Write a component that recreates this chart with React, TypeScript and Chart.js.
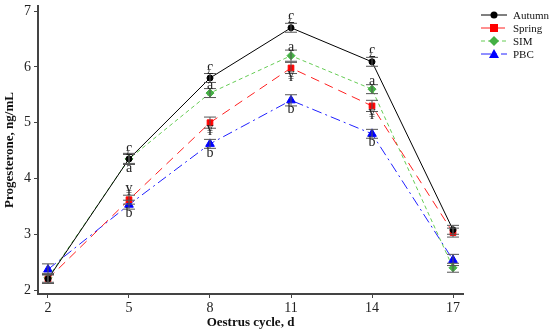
import React, { useEffect, useRef } from "react";
import { Chart, registerables } from "chart.js";

Chart.register(...registerables);

const days = [2, 5, 8, 11, 14, 17];
const yTicks = [2, 3, 4, 5, 6, 7];

const autumn = [2.2, 4.35, 5.8, 6.7, 6.09, 3.08];
const spring = [2.2, 3.62, 5.0, 5.98, 5.3, 3.03];
const sim = [2.22, 4.35, 5.53, 6.2, 5.6, 2.4];
const pbc = [2.37, 3.53, 4.62, 5.4, 4.8, 2.54];

const autumnErr = [0.08, 0.1, 0.08, 0.08, 0.08, 0.08];
const springErr = [0.08, 0.08, 0.1, 0.1, 0.1, 0.08];
const simErr = [0.08, 0.08, 0.08, 0.1, 0.08, 0.08];
const pbcErr = [0.1, 0.08, 0.08, 0.1, 0.08, 0.1];

const autumnLetters = ["", "£", "£", "£", "£", ""];
const springLetters = ["", "¥", "¥", "¥", "¥", ""];
const simLetters = ["", "a", "a", "a", "a", ""];
const pbcLetters = ["", "b", "b", "b", "b", ""];

// +1 = above the point, -1 = below the point
const autumnLetterSide = [1, 1, 1, 1, 1, 1];
const springLetterSide = [-1, 1, -1, -1, -1, -1];
const simLetterSide = [-1, -1, 1, 1, 1, -1];
const pbcLetterSide = [-1, -1, -1, -1, -1, -1];

const seriesNames = ["Autumn", "Spring", "SIM", "PBC"];

const SERIF = "'Liberation Serif', 'DejaVu Serif', serif";

export default function App() {
  const ref = useRef<HTMLCanvasElement | null>(null);

  useEffect(() => {
    const canvas = ref.current;
    if (!canvas) return;

    const errs = [autumnErr, springErr, simErr, pbcErr];
    const letters = [autumnLetters, springLetters, simLetters, pbcLetters];
    const sides = [autumnLetterSide, springLetterSide, simLetterSide, pbcLetterSide];

    const overlay = {
      id: "overlay",
      afterDatasetsDraw(chart: any) {
        const ctx = chart.ctx;
        const xs = chart.scales.x;
        const ys = chart.scales.y;
        ctx.save();
        chart.data.datasets.forEach((ds: any, di: number) => {
          ds.data.forEach((pt: any, i: number) => {
            const px = xs.getPixelForValue(pt.x);
            const e = errs[di][i];
            const yt = ys.getPixelForValue(pt.y + e);
            const yb = ys.getPixelForValue(pt.y - e);
            ctx.strokeStyle = "#555";
            ctx.lineWidth = 1;
            ctx.setLineDash([]);
            ctx.beginPath();
            ctx.moveTo(px, yt);
            ctx.lineTo(px, yb);
            ctx.moveTo(px - 6, yt);
            ctx.lineTo(px + 6, yt);
            ctx.moveTo(px - 6, yb);
            ctx.lineTo(px + 6, yb);
            ctx.stroke();
          });
        });
        ctx.font = `14px ${SERIF}`;
        ctx.fillStyle = "#222";
        ctx.textAlign = "center";
        ctx.textBaseline = "middle";
        chart.data.datasets.forEach((ds: any, di: number) => {
          ds.data.forEach((pt: any, i: number) => {
            const t = letters[di][i];
            if (!t) return;
            const px = xs.getPixelForValue(pt.x);
            const py = ys.getPixelForValue(pt.y);
            const off = sides[di][i] > 0 ? -8 : 9;
            ctx.fillText(t, px, py + off);
          });
        });
        ctx.restore();
      },
      afterDraw(chart: any) {
        const ctx = chart.ctx;
        ctx.save();
        chart.data.datasets.forEach((ds: any, di: number) => {
          const y = 15 + di * 13;
          ctx.strokeStyle = ds.borderColor;
          ctx.lineWidth = 1;
          ctx.setLineDash(ds.borderDash || []);
          ctx.beginPath();
          ctx.moveTo(481, y);
          ctx.lineTo(507, y);
          ctx.stroke();
          ctx.setLineDash([]);
          ctx.fillStyle = ds.pointBackgroundColor;
          const s = ds.pointStyle;
          const cx = 494;
          ctx.beginPath();
          if (s === "circle") {
            ctx.arc(cx, y, 3.5, 0, Math.PI * 2);
          } else if (s === "rect") {
            ctx.rect(cx - 4, y - 4, 8, 8);
          } else if (s === "rectRot") {
            ctx.moveTo(cx, y - 5);
            ctx.lineTo(cx + 5, y);
            ctx.lineTo(cx, y + 5);
            ctx.lineTo(cx - 5, y);
            ctx.closePath();
          } else {
            ctx.moveTo(cx, y - 5);
            ctx.lineTo(cx + 5, y + 4);
            ctx.lineTo(cx - 5, y + 4);
            ctx.closePath();
          }
          ctx.fill();
          ctx.font = `11px ${SERIF}`;
          ctx.fillStyle = "#111";
          ctx.textAlign = "left";
          ctx.textBaseline = "middle";
          ctx.fillText(seriesNames[di], 513, y + 1);
        });
        ctx.restore();
      },
    };

    const mk = (vals: number[]) => vals.map((v, i) => ({ x: days[i], y: v }));

    const chart = new Chart(canvas, {
      type: "line",
      data: {
        datasets: [
          {
            label: seriesNames[0],
            data: mk(autumn),
            borderColor: "#000000",
            backgroundColor: "#000000",
            pointBackgroundColor: "#000000",
            pointBorderColor: "#000000",
            pointStyle: "circle",
            pointRadius: 3,
            borderWidth: 1,
            borderDash: [],
          },
          {
            label: seriesNames[1],
            data: mk(spring),
            borderColor: "#ff2020",
            backgroundColor: "#ff0000",
            pointBackgroundColor: "#ff0000",
            pointBorderColor: "#ff0000",
            pointStyle: "rect",
            pointRadius: 4,
            borderWidth: 1,
            borderDash: [9, 6],
          },
          {
            label: seriesNames[2],
            data: mk(sim),
            borderColor: "#66cc55",
            backgroundColor: "#44b044",
            pointBackgroundColor: "#44b044",
            pointBorderColor: "#44b044",
            pointStyle: "rectRot",
            pointRadius: 4,
            borderWidth: 1,
            borderDash: [4, 3],
          },
          {
            label: seriesNames[3],
            data: mk(pbc),
            borderColor: "#2020ff",
            backgroundColor: "#0000ff",
            pointBackgroundColor: "#0000ff",
            pointBorderColor: "#0000ff",
            pointStyle: "triangle",
            pointRadius: 5,
            borderWidth: 1,
            borderDash: [10, 4, 2, 4],
          },
        ],
      },
      options: {
        animation: false,
        responsive: false,
        maintainAspectRatio: false,
        layout: { padding: { top: 5, right: 87, left: 0, bottom: 0 } },
        plugins: { legend: { display: false }, tooltip: { enabled: false } },
        scales: {
          x: {
            type: "linear",
            min: 1.63,
            max: 17.37,
            afterBuildTicks: (s: any) => {
              s.ticks = days.map((v) => ({ value: v }));
            },
            afterFit: (s: any) => {
              s.height = 40;
              s.paddingLeft = 0;
              s.paddingRight = 0;
            },
            grid: { drawOnChartArea: false, drawTicks: true, tickLength: 4, color: "#444" },
            border: { color: "#444", width: 2 },
            ticks: { font: { family: SERIF, size: 14 }, color: "#222", padding: 2 },
            title: {
              display: true,
              text: "Oestrus cycle, d",
              font: { family: SERIF, size: 13, weight: "bold" },
              color: "#111",
              padding: { top: 0, bottom: 4 },
            },
          },
          y: {
            type: "linear",
            min: 1.93,
            max: 7.09,
            afterBuildTicks: (s: any) => {
              s.ticks = yTicks.map((v) => ({ value: v }));
            },
            afterFit: (s: any) => {
              s.width = 38;
              s.paddingTop = 0;
              s.paddingBottom = 0;
            },
            grid: { drawOnChartArea: false, drawTicks: true, tickLength: 4, color: "#444" },
            border: { color: "#444", width: 2 },
            ticks: { font: { family: SERIF, size: 14 }, color: "#222", padding: 3 },
            title: {
              display: true,
              text: "Progesterone, ng/mL",
              font: { family: SERIF, size: 13, weight: "bold" },
              color: "#111",
              padding: { top: 2, bottom: 0 },
            },
          },
        },
      },
      plugins: [overlay],
    } as any);

    return () => chart.destroy();
  }, []);

  return (
    <div style={{ position: "fixed", left: 0, top: 0, width: 550, height: 334, background: "#fff" }}>
      <canvas ref={ref} width={550} height={334} style={{ width: 550, height: 334 }} />
    </div>
  );
}
